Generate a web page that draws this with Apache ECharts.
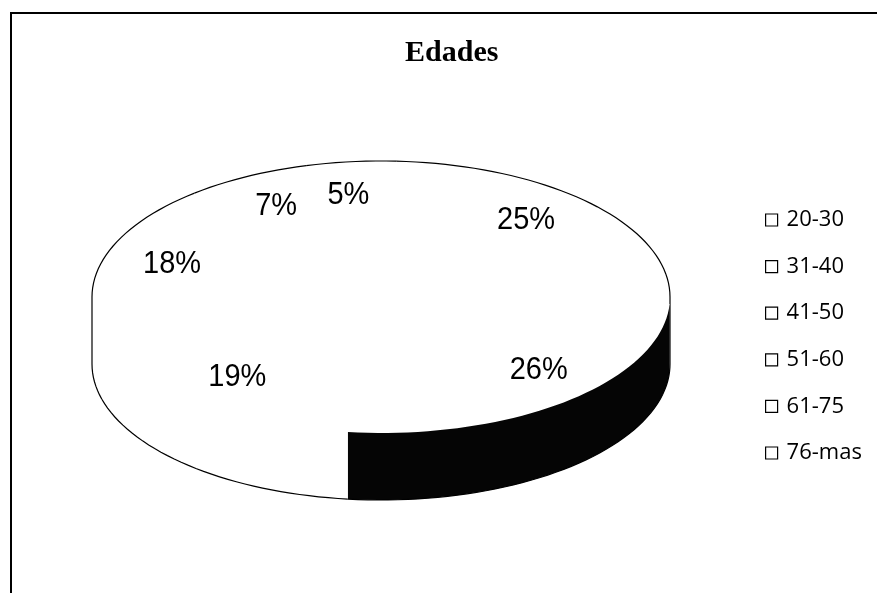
<!DOCTYPE html>
<html style="height: 100%">
<head>
    <meta charset="utf-8">
    <script src="https://cdn.jsdelivr.net/npm/echarts@6/dist/echarts.min.js"></script>
</head>
<body style="height: 100%; margin: 0; background: #fff">
    <div id="main" style="width: 877px; height: 593px"></div>
    <script type="text/javascript">
        // grupos de edad y porcentajes
        var groups = ['20-30', '31-40', '41-50', '51-60', '61-75', '76-mas'];
        var shares = [25, 26, 19, 18, 7, 5];

        // geometria del "pastel 3D" (elipse + canto)
        var CX = 381, CY = 297, RX = 289, RY = 136, DEPTH = 67;
        var START = 3;            // giro de la primera porcion (grados)
        var LCX = 380, LCY = 290, LRX = 219, LRY = 104;   // elipse de las etiquetas
        var sideFill = ['#fff', '#050505', '#fff', '#fff', '#fff', '#fff'];

        var total = shares.reduce(function (a, b) { return a + b; }, 0);

        function arcPts(a0, a1, dy) {
            var pts = [];
            var n = Math.max(2, Math.ceil((a1 - a0) / 2));
            for (var k = 0; k <= n; k++) {
                var t = (a0 + (a1 - a0) * k / n) * Math.PI / 180;
                pts.push([CX + RX * Math.sin(t), CY - RY * Math.cos(t) + dy]);
            }
            return pts;
        }

        function renderSlice(params, api) {
            var v = api.value(0), before = api.value(1), sum = api.value(2);
            var idx = params.seriesIndex;
            var a0 = START + before / sum * 360;
            var a1 = a0 + v / sum * 360;
            var line = { stroke: '#000', lineWidth: 1.2, fill: null };
            var children = [];

            // cara superior: blanca, sin separaciones
            children.push({ type: 'polygon', shape: { points: [[CX, CY]].concat(arcPts(a0, a1, 0)) }, style: { fill: '#fff' } });
            // borde trasero (solo la mitad de atras se ve como linea)
            if (a0 < 90) children.push({ type: 'polyline', shape: { points: arcPts(a0, Math.min(a1, 90), 0) }, style: line });
            if (a1 > 270) children.push({ type: 'polyline', shape: { points: arcPts(Math.max(a0, 270), a1, 0) }, style: line });

            // canto frontal (90..270 grados)
            var s0 = Math.max(a0, 90), s1 = Math.min(a1, 270);
            if (s1 > s0) {
                var up = arcPts(s0, s1, 0), dn = arcPts(s0, s1, DEPTH);
                children.push({ type: 'polygon', shape: { points: up.concat(dn.slice().reverse()) }, style: { fill: sideFill[idx] } });
                children.push({ type: 'polyline', shape: { points: dn }, style: line });
                if (s0 === 90) children.push({ type: 'polyline', shape: { points: [up[0], dn[0]] }, style: line });
                if (s1 === 270) children.push({ type: 'polyline', shape: { points: [up[up.length - 1], dn[dn.length - 1]] }, style: line });
            }

            // etiqueta de porcentaje (con algo de perspectiva)
            var mid = (before + v / 2) / sum * 2 * Math.PI;
            var r = 1 - 0.08 * Math.cos(mid);
            children.push({
                type: 'text',
                x: LCX + r * LRX * Math.sin(mid),
                y: LCY - r * LRY * Math.cos(mid),
                scaleY: 1.08,
                style: {
                    text: Math.round(v / sum * 100) + '%',
                    fill: '#000',
                    font: '29px "Liberation Sans"',
                    align: 'center',
                    verticalAlign: 'middle'
                }
            });
            return { type: 'group', children: children };
        }

        var series = [];
        var acc = 0;
        for (var i = 0; i < groups.length; i++) {
            series.push({
                type: 'custom',
                name: groups[i],
                coordinateSystem: 'none',
                silent: true,
                renderItem: renderSlice,
                data: [[shares[i], acc, total]]
            });
            acc += shares[i];
        }

        var myChart = echarts.init(document.getElementById('main'));
        var option = {
            animation: false,
            backgroundColor: '#fff',
            title: {
                text: 'Edades',
                left: 405,
                top: 38,
                padding: 0,
                textStyle: {
                    fontFamily: 'Liberation Serif',
                    fontWeight: 'bold',
                    fontSize: 30,
                    color: '#000'
                }
            },
            legend: {
                orient: 'vertical',
                left: 765,
                top: 209,
                padding: 0,
                itemWidth: 12,
                itemHeight: 12,
                itemGap: 24.6,
                icon: 'rect',
                itemStyle: { color: '#fff', borderColor: '#000', borderWidth: 1.2 },
                textStyle: { fontFamily: 'Open Sans', fontSize: 22, color: '#000', padding: [0, 0, 0, 4] },
                data: groups
            },
            graphic: [{
                type: 'rect',
                shape: { x: 11, y: 13, width: 900, height: 700 },
                style: { fill: 'none', stroke: '#000', lineWidth: 2 },
                silent: true
            }],
            series: series
        };
        myChart.setOption(option);
    </script>
</body>
</html>
